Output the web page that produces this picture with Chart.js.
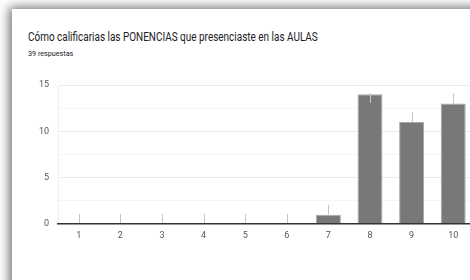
<!DOCTYPE html>
<html>
<head>
<meta charset="utf-8">
<script src="https://cdn.jsdelivr.net/npm/chart.js@4/dist/chart.umd.min.js"></script>
<style>
    html, body {
        margin: 0;
        width: 470px;
        height: 280px;
        overflow: hidden;
        background: #fff;
        font-family: Roboto, sans-serif;
    }
    .card {
        position: absolute;
        left: 12px;
        top: 9px;
        width: 480px;
        height: 290px;
        background: #fff;
        box-shadow: -3px -2px 10px rgba(0, 0, 0, 0.55);
    }
    .title {
        position: absolute;
        left: 16px;
        top: 21px;
        font-size: 12px;
        color: #202124;
        white-space: nowrap;
        transform: scaleX(0.83);
        transform-origin: left top;
    }
    .subtitle {
        position: absolute;
        left: 16px;
        top: 40px;
        font-size: 8px;
        color: #202124;
        transform: scaleX(0.9);
        transform-origin: left top;
    }
    .chart-box {
        position: absolute;
        left: 0;
        top: 61px;
        width: 462px;
        height: 210px;
    }
</style>
</head>
<body>
<div class="card">
    <div class="title">Cómo calificarias las PONENCIAS que presenciaste en las AULAS</div>
    <div class="subtitle">39 respuestas</div>
    <div class="chart-box"><canvas id="ratingChart"></canvas></div>
</div>

<script>
// Chart data
const categories = ['1', '2', '3', '4', '5', '6', '7', '8', '9', '10'];
const responses = [0, 0, 0, 0, 0, 0, 1, 14, 11, 13];
const yTickLabels = [0, 5, 10, 15];

// Small grey marks above each bar
const barMarks = {
    id: 'barMarks',
    afterDatasetsDraw(chart) {
        const ctx = chart.ctx;
        const area = chart.chartArea;
        const meta = chart.getDatasetMeta(0);
        ctx.save();
        ctx.strokeStyle = '#c4c4c4';
        ctx.lineWidth = 1;
        meta.data.forEach(bar => {
            const top = Math.max(bar.y - 10, area.top + 8);
            const x = Math.round(bar.x) + 0.5;
            ctx.beginPath();
            ctx.moveTo(x, top);
            ctx.lineTo(x, top + 10);
            ctx.stroke();
        });
        ctx.restore();
    }
};

new Chart(document.getElementById('ratingChart'), {
    type: 'bar',
    data: {
        labels: categories,
        datasets: [{
            data: responses,
            backgroundColor: '#787878',
            borderColor: '#a8a8a8',
            borderWidth: 1,
            borderSkipped: 'bottom',
            barPercentage: 0.6,
            categoryPercentage: 1
        }]
    },
    options: {
        responsive: true,
        maintainAspectRatio: false,
        animation: false,
        layout: {
            padding: { top: 15, right: 0, left: 0, bottom: 0 }
        },
        plugins: {
            legend: { display: false },
            tooltip: { enabled: false }
        },
        scales: {
            x: {
                grid: { display: false, drawTicks: false },
                border: { display: true, color: '#333', width: 1.5, z: 1 },
                ticks: {
                    color: '#555',
                    padding: 6,
                    maxRotation: 0,
                    font: { family: 'Roboto', size: 9 }
                },
                afterFit(scale) { scale.height = 56; }
            },
            y: {
                min: 0,
                max: 15,
                grid: {
                    drawTicks: false,
                    color: c => {
                        if (c.tick.value === 0) return 'rgba(0,0,0,0)';
                        return c.tick.value % 5 === 0 ? '#ebebeb' : '#f5f5f5';
                    }
                },
                border: { display: true, color: '#eeeeee' },
                ticks: {
                    stepSize: 2.5,
                    autoSkip: false,
                    color: '#555',
                    padding: 9,
                    font: { family: 'Roboto', size: 9 },
                    callback: value => yTickLabels.includes(value) ? value : ''
                },
                afterFit(scale) { scale.width = 46; }
            }
        }
    },
    plugins: [barMarks]
});
</script>
</body>
</html>
